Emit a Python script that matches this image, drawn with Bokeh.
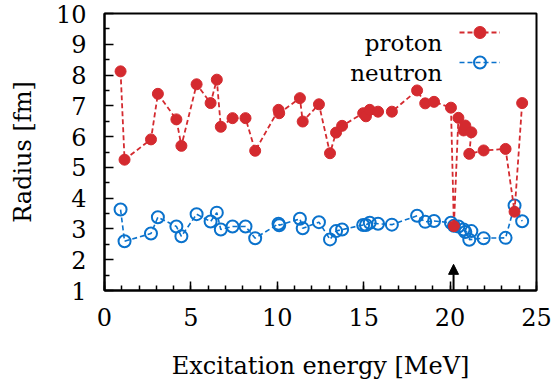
from bokeh.plotting import figure
from bokeh.models import (Range1d, FixedTicker, Legend, LegendItem, Label, Arrow,
                          NormalHead)
from bokeh.embed import file_html
from bokeh.resources import INLINE

# Excitation energy [MeV] (drawn order)
energy = [0.93, 1.16, 2.69, 3.09, 4.16, 4.45, 5.33, 6.14, 6.50, 6.73,
          7.41, 8.16, 8.72, 10.07, 10.11, 11.31, 11.47, 12.41, 13.05, 13.40,
          13.75, 14.97, 15.13, 15.35, 15.83, 16.63, 18.09, 18.56, 19.07, 20.05,
          20.22, 20.48, 20.78, 20.88, 21.23, 21.11, 21.94, 23.21, 23.73, 24.17]
# Radius [fm]
proton = [8.12, 5.25, 5.91, 7.39, 6.56, 5.70, 7.70, 7.09, 7.85, 6.32,
          6.60, 6.60, 5.54, 6.87, 6.76, 7.25, 6.49, 7.05, 5.46, 6.13,
          6.35, 6.76, 6.66, 6.87, 6.81, 6.81, 7.50, 7.08, 7.13, 6.94,
          3.09, 6.61, 6.20, 6.36, 6.14, 5.44, 5.55, 5.60, 3.56, 7.09]
neutron = [3.63, 2.60, 2.85, 3.38, 3.08, 2.76, 3.48, 3.24, 3.53, 2.98,
           3.08, 3.08, 2.70, 3.17, 3.12, 3.33, 3.02, 3.22, 2.66, 2.93,
           2.98, 3.13, 3.13, 3.20, 3.17, 3.14, 3.43, 3.23, 3.26, 3.20,
           3.10, 3.08, 2.98, 2.90, 2.93, 2.65, 2.70, 2.71, 3.76, 3.25]
series_names = ["proton", "neutron"]
x_ticks = [0, 5, 10, 15, 20, 25]
y_ticks = [1, 2, 3, 4, 5, 6, 7, 8, 9, 10]
arrow_x = 20.2
arrow_top = 1.85

RED = "#d42a2f"
BLUE = "#0a72cc"
FONT = "DejaVu Serif"

p = figure(width=555, height=388, x_range=Range1d(0, 25), y_range=Range1d(1, 10),
           output_backend="svg", toolbar_location=None,
           min_border_left=104, min_border_right=19, min_border_top=13,
           min_border_bottom=98, background_fill_color="white",
           border_fill_color="white")
p.xgrid.visible = False
p.ygrid.visible = False
p.outline_line_color = "black"
p.outline_line_width = 2
p.outline_line_alpha = 1

ln = p.line(energy, neutron, line_color=BLUE, line_width=1.6, line_dash="5 3")
sn = p.scatter(energy, neutron, marker="circle", size=12, line_color=BLUE,
               line_width=2, fill_color=None)
lp = p.line(energy, proton, line_color=RED, line_width=1.8, line_dash="5 3")
sp = p.scatter(energy, proton, marker="circle", size=11, line_color=RED,
               fill_color=RED)

for ax in (p.xaxis[0], p.yaxis[0]):
    ax.axis_line_color = "black"
    ax.axis_line_width = 2
    ax.major_tick_in = 9
    ax.major_tick_out = 0
    ax.minor_tick_in = 5
    ax.minor_tick_out = 0
    ax.major_tick_line_width = 1.5
    ax.minor_tick_line_width = 1.5
    ax.major_tick_line_color = "black"
    ax.minor_tick_line_color = "black"
    ax.major_label_text_font = FONT
    ax.major_label_text_font_size = "24px"
    ax.major_label_text_color = "black"
    ax.axis_label_text_font = FONT
    ax.axis_label_text_font_size = "24px"
    ax.axis_label_text_font_style = "normal"
    ax.axis_label_text_color = "black"

p.xaxis.ticker = FixedTicker(ticks=x_ticks, minor_ticks=list(range(0, 26)))
p.yaxis.ticker = FixedTicker(ticks=y_ticks,
                             minor_ticks=[y + 0.5 for y in y_ticks[:-1]])
p.xaxis.axis_label = "Excitation energy [MeV]"
p.yaxis.axis_label = "Radius [fm]"
p.xaxis.major_label_standoff = 17
p.yaxis.major_label_standoff = 18
p.xaxis.axis_label_standoff = 23
p.yaxis.axis_label_standoff = 16

p.add_layout(Arrow(x_start=arrow_x, y_start=1, x_end=arrow_x, y_end=arrow_top,
                   line_color="black", line_width=2,
                   end=NormalHead(size=10, fill_color="black", line_color="black")))

legend = Legend(items=[LegendItem(label=" ", renderers=[lp, sp]),
                       LegendItem(label=" ", renderers=[ln, sn])],
                location=(355, 213), padding=0, margin=0, spacing=0,
                glyph_width=41, glyph_height=30, label_width=0, label_height=30,
                label_standoff=0, label_text_font_size="1px",
                background_fill_alpha=0, border_line_alpha=0)
p.add_layout(legend)
p.add_layout(Label(x=19.55, y=9.03, text=series_names[0], text_align="right",
                   text_baseline="alphabetic", text_font=FONT,
                   text_font_size="23px", text_color="black"))
p.add_layout(Label(x=19.55, y=8.08, text=series_names[1], text_align="right",
                   text_baseline="alphabetic", text_font=FONT,
                   text_font_size="23px", text_color="black"))

open("out.html", "w").write(file_html(p, INLINE))
